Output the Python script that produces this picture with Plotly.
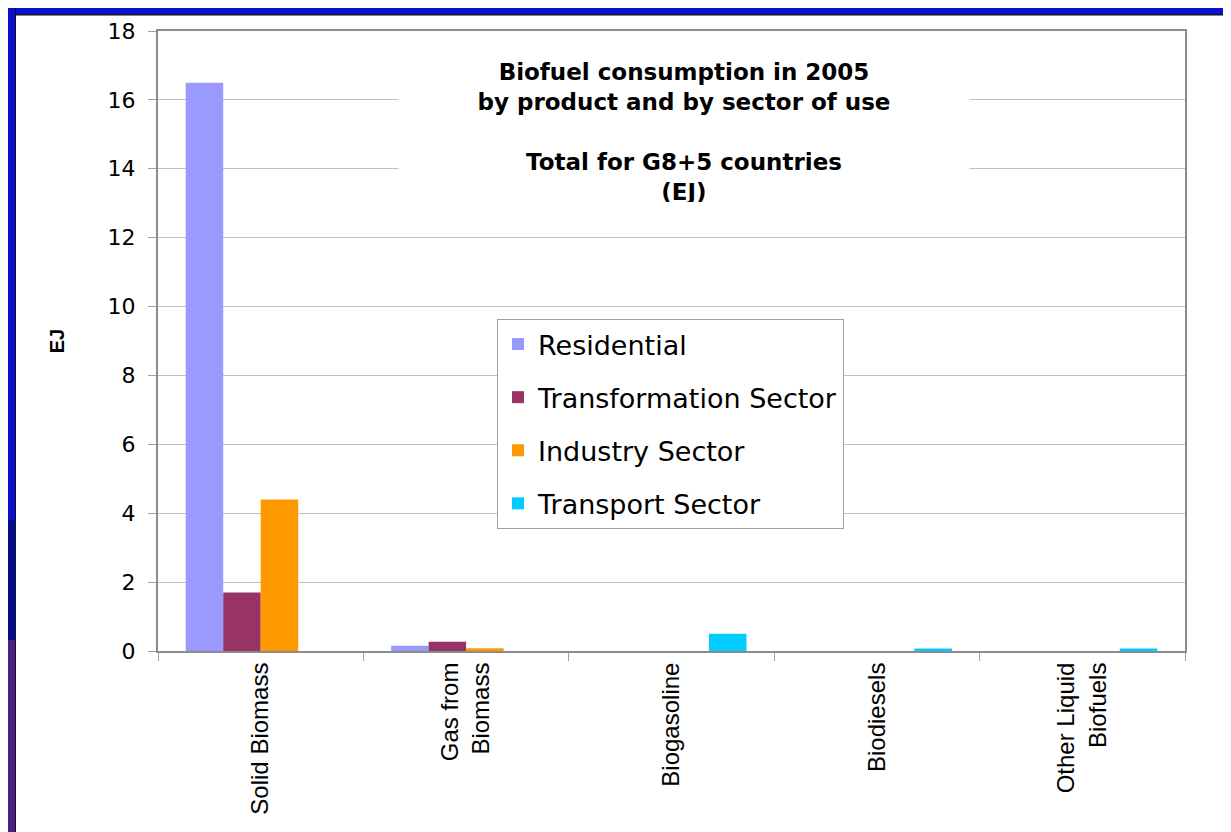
import plotly.graph_objects as go

categories = ["Solid Biomass", "Gas from<br>Biomass", "Biogasoline", "Biodiesels", "Other Liquid<br>Biofuels"]
residential = [16.5, 0.15, 0, 0, 0]
transformation = [1.7, 0.27, 0, 0, 0]
industry = [4.4, 0.08, 0, 0, 0]
transport = [0, 0, 0.5, 0.07, 0.07]
series_names = ["Residential", "Transformation Sector", "Industry Sector", "Transport Sector"]
series_colors = ["#9999FF", "#993366", "#FF9900", "#00CCFF"]
y_ticks = [0, 2, 4, 6, 8, 10, 12, 14, 16, 18]

# page offset of the figure inside the browser (body margin)
OFF = 8
W, H = 1231 - OFF, 832 - OFF
L, R, T, B = 158 - OFF, 46, 31 - OFF, 181
pw, ph = W - L - R, H - T - B

def px(x):
    # screen x -> paper
    return (x - OFF - L) / pw

def py(y):
    # screen y -> paper
    return (H - B - (y - OFF)) / ph

fig = go.Figure()
for i, (name, vals, col) in enumerate(zip(series_names, [residential, transformation, industry, transport], series_colors)):
    fig.add_trace(go.Bar(x=categories, y=vals, name=name, marker=dict(color=col, line=dict(width=0)),
                         legendgroup="g%d" % i))

blue = "#0A10CB"
shapes = [
    dict(type="rect", xref="paper", yref="paper", x0=px(OFF), x1=px(1231), y0=py(OFF), y1=py(OFF + 6), fillcolor=blue, line_width=0, layer="above"),
    dict(type="rect", xref="paper", yref="paper", x0=px(OFF), x1=px(1231), y0=py(OFF + 6), y1=py(OFF + 7.5), fillcolor="#101030", line_width=0, layer="above"),
    dict(type="rect", xref="paper", yref="paper", x0=px(OFF), x1=px(OFF + 7), y0=py(OFF), y1=py(520), fillcolor=blue, line_width=0, layer="above"),
    dict(type="rect", xref="paper", yref="paper", x0=px(OFF), x1=px(OFF + 7), y0=py(520), y1=py(640), fillcolor="#050A8A", line_width=0, layer="above"),
    dict(type="rect", xref="paper", yref="paper", x0=px(OFF), x1=px(OFF + 7), y0=py(640), y1=py(832), fillcolor="#4A2080", line_width=0, layer="above"),
    dict(type="rect", xref="paper", yref="paper", x0=px(OFF + 7), x1=px(OFF + 8), y0=py(OFF), y1=py(832), fillcolor="#101030", line_width=0, layer="above"),
]

fig.update_layout(
    width=W, height=H,
    margin=dict(l=L, r=R, t=T, b=B),
    paper_bgcolor="white", plot_bgcolor="white",
    barmode="group", bargap=0.27, bargroupgap=0,
    font=dict(family="Liberation Sans, Arial", color="black"),
    shapes=shapes,
    showlegend=True,
    legend=dict(x=px(497), y=py(319), xanchor="left", yanchor="top",
                bordercolor="#A0A0A0", borderwidth=1, bgcolor="white",
                font=dict(family="DejaVu Sans", size=27, color="black"),
                tracegroupgap=15, traceorder="grouped"),
    xaxis=dict(showline=True, linecolor="#8C8C8C", linewidth=2, mirror=True,
               ticks="outside", ticklen=8, tickcolor="#A0A0A0", tickson="boundaries",
               tickangle=-90, tickfont=dict(family="Liberation Sans", size=24, color="black"),
               showgrid=False),
    yaxis=dict(range=[0, 18], tickvals=y_ticks, showline=True, linecolor="#8C8C8C", linewidth=2, mirror=True,
               ticks="outside", ticklen=8, tickcolor="#A0A0A0", ticklabelstandoff=8,
               tickfont=dict(family="DejaVu Sans", size=22, color="black"),
               showgrid=True, gridcolor="#C0C0C0", gridwidth=1, zeroline=False,
               title=dict(text="<b>EJ</b>", font=dict(family="Liberation Sans", size=20, color="black"), standoff=38)),
    annotations=[dict(
        text="<b>Biofuel consumption in 2005<br>by product and by sector of use<br><br>Total for G8+5 countries<br>(EJ)</b>",
        xref="paper", yref="paper", x=px(684), y=py(132), xanchor="center", yanchor="middle",
        showarrow=False, bgcolor="white", width=568, height=140, align="center",
        font=dict(family="DejaVu Sans", size=23, color="black"))],
)

fig.write_html("out.html")
